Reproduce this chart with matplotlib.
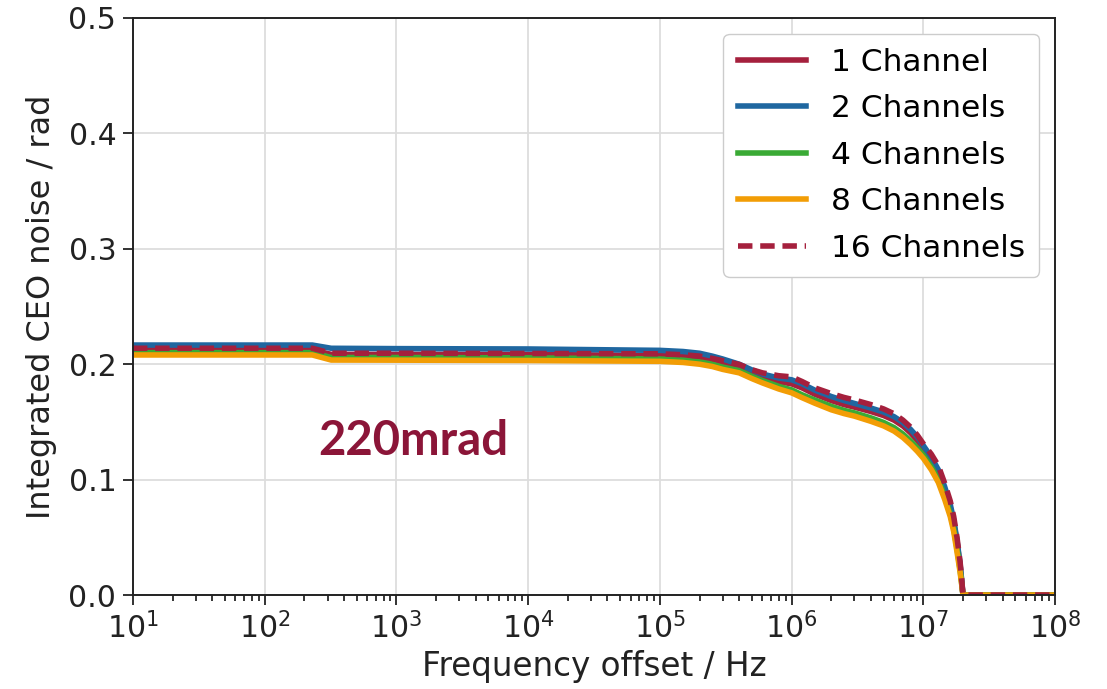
import matplotlib
matplotlib.use("Agg")
import matplotlib.pyplot as plt
import numpy as np

plt.rcParams["font.family"] = ["DejaVu Sans"]

freq = [10, 100, 230, 320, 1e3, 1e4, 1e5, 1.5e5, 2e5, 2.5e5, 3e5, 4e5, 5e5, 6e5, 8e5,
        1e6, 1.2e6, 1.5e6, 2e6, 2.5e6, 3e6, 4e6, 5e6, 6e6, 7e6, 8e6, 9e6, 1e7, 1.15e7,
        1.3e7, 1.45e7, 1.6e7, 1.7e7, 1.8e7, 1.9e7, 1.95e7, 2e7, 1e8]

ch1 = [0.2125, 0.2125, 0.2125, 0.2085, 0.2085, 0.2085, 0.2075, 0.2068, 0.2055, 0.2035,
       0.2010, 0.1968, 0.1915, 0.1880, 0.1848, 0.1830, 0.1795, 0.1740, 0.1685, 0.1650,
       0.1628, 0.1590, 0.1555, 0.1515, 0.1465, 0.1405, 0.1340, 0.1265, 0.1165, 0.1055,
       0.0915, 0.0760, 0.0630, 0.0460, 0.0260, 0.0130, 0.0, 0.0]
ch2 = [0.2166, 0.2166, 0.2166, 0.2138, 0.2135, 0.2132, 0.2120, 0.2110, 0.2095, 0.2070,
       0.2045, 0.2000, 0.1950, 0.1915, 0.1880, 0.1865, 0.1830, 0.1775, 0.1720, 0.1685,
       0.1660, 0.1620, 0.1585, 0.1545, 0.1495, 0.1435, 0.1370, 0.1295, 0.1195, 0.1085,
       0.0940, 0.0785, 0.0650, 0.0475, 0.0270, 0.0140, 0.0, 0.0]
ch4 = [0.2100, 0.2100, 0.2100, 0.2058, 0.2058, 0.2055, 0.2045, 0.2035, 0.2020, 0.2000,
       0.1975, 0.1945, 0.1895, 0.1858, 0.1808, 0.1778, 0.1735, 0.1690, 0.1635, 0.1600,
       0.1578, 0.1535, 0.1495, 0.1450, 0.1395, 0.1335, 0.1275, 0.1212, 0.1110, 0.1005,
       0.0860, 0.0705, 0.0575, 0.0405, 0.0220, 0.0110, 0.0, 0.0]
ch8 = [0.2080, 0.2080, 0.2080, 0.2036, 0.2035, 0.2032, 0.2025, 0.2015, 0.2000, 0.1980,
       0.1955, 0.1925, 0.1875, 0.1838, 0.1785, 0.1752, 0.1710, 0.1662, 0.1605, 0.1572,
       0.1550, 0.1505, 0.1465, 0.1420, 0.1365, 0.1305, 0.1245, 0.1185, 0.1085, 0.0975,
       0.0830, 0.0680, 0.0550, 0.0375, 0.0200, 0.0100, 0.0, 0.0]
ch16 = [0.2138, 0.2138, 0.2138, 0.2095, 0.2095, 0.2093, 0.2090, 0.2082, 0.2070, 0.2050,
        0.2030, 0.1998, 0.1952, 0.1925, 0.1900, 0.1890, 0.1850, 0.1795, 0.1745, 0.1712,
        0.1690, 0.1650, 0.1612, 0.1570, 0.1515, 0.1455, 0.1385, 0.1310, 0.1220, 0.1120,
        0.0970, 0.0815, 0.0680, 0.0500, 0.0290, 0.0150, 0.0, 0.0]

labels = ["1 Channel", "2 Channels", "4 Channels", "8 Channels", "16 Channels"]
series = [ch1, ch2, ch4, ch8, ch16]
colors = ["#a5203d", "#1f67a0", "#3aaa35", "#f29d05", "#a5203d"]
styles = ["-", "-", "-", "-", "--"]

fig = plt.figure(figsize=(11.07, 6.89), dpi=100)
ax = fig.add_axes([0.1201, 0.1364, 0.833, 0.8375])

for lab, s, c, ls in zip(labels, series, colors, styles):
    if ls == "--":
        ax.plot(freq, s, color=c, linewidth=4, label=lab, dashes=(2.6, 1.4))
    else:
        ax.plot(freq, s, color=c, linewidth=4, label=lab)

ax.set_xscale("log")
ax.set_xlim(10, 1e8)
ax.set_ylim(0, 0.5)
ax.set_yticks([0.0, 0.1, 0.2, 0.3, 0.4, 0.5])
ax.grid(True, which="major", color="#dddddd", linewidth=1.3)
ax.set_axisbelow(True)
ax.tick_params(axis="both", which="major", labelsize=21.5, length=7, width=1.3,
               pad=5, colors="#222222", labelcolor="#222222")
ax.tick_params(axis="both", which="minor", length=4, width=1.1)
for sp in ax.spines.values():
    sp.set_linewidth(1.4)
    sp.set_color("#222222")
ax.set_xlabel("Frequency offset / Hz", fontsize=23.5, color="#222222", labelpad=4)
ax.set_ylabel("Integrated CEO noise / rad", fontsize=23, color="#222222", labelpad=8)

leg = ax.legend(loc="upper right", fontsize=22.5, handlelength=2.2,
                borderaxespad=0.5, labelspacing=0.56, framealpha=1,
                edgecolor="#cccccc", handletextpad=0.8, borderpad=0.45)

fig.text(318 / 1107, 1 - 455 / 689, "220mrad", fontsize=34, fontweight="bold",
         color="#8b1538", family=["Lato", "DejaVu Sans"], va="baseline")

fig.savefig("out.png", dpi=100)
